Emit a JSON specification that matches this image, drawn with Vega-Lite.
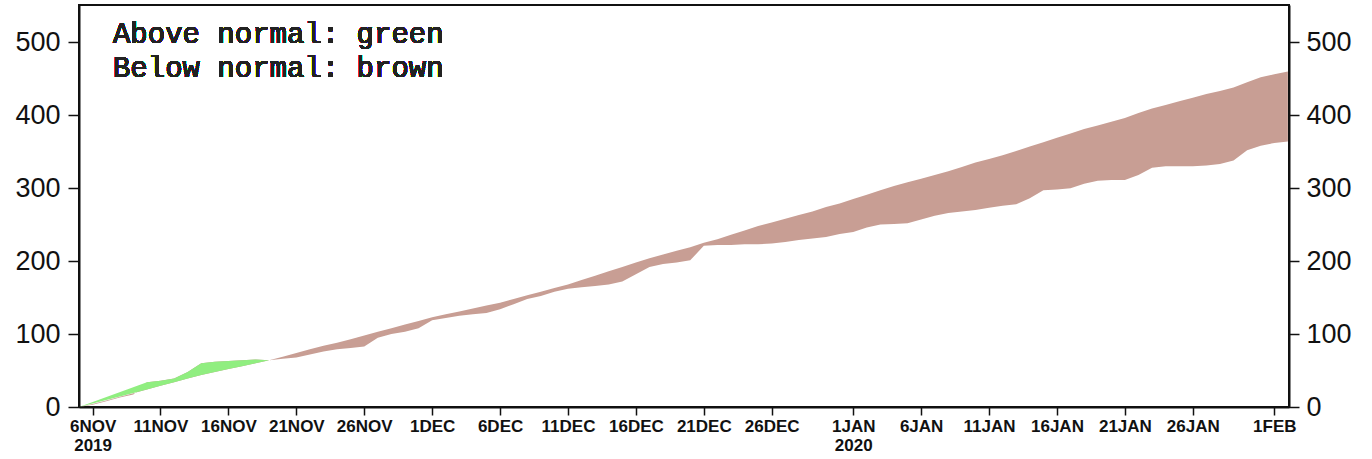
{
  "$schema": "https://vega.github.io/schema/vega-lite/v6.json",
  "autosize": {"type": "none"},
  "width": 1210,
  "height": 402,
  "padding": {"left": 79, "top": 5, "right": 83, "bottom": 52},
  "background": "white",
  "config": {
    "view": {"stroke": "#111", "strokeWidth": 2},
    "axis": {"domainColor": "#111", "domainWidth": 2, "tickColor": "#111", "tickWidth": 1.5, "labelColor": "#111", "title": null, "grid": false},
    "axisY": {"labelFont": "Liberation Sans", "labelFontSize": 27, "labelFlush": false, "labelBound": false},
    "axisLeft": {"tickSize": 11, "labelPadding": 8},
    "axisRight": {"tickSize": 10, "labelPadding": 7}
  },
  "data": {"values": [
    {"date": "2019-11-05", "observed": 0, "normal": 0},
    {"date": "2019-11-06", "observed": 3, "normal": 4},
    {"date": "2019-11-07", "observed": 8, "normal": 9},
    {"date": "2019-11-08", "observed": 13, "normal": 14},
    {"date": "2019-11-09", "observed": 17, "normal": 19},
    {"date": "2019-11-10", "observed": 34, "normal": 24},
    {"date": "2019-11-11", "observed": 36, "normal": 29},
    {"date": "2019-11-12", "observed": 39, "normal": 34},
    {"date": "2019-11-13", "observed": 48, "normal": 39},
    {"date": "2019-11-14", "observed": 60, "normal": 44},
    {"date": "2019-11-15", "observed": 62, "normal": 48},
    {"date": "2019-11-16", "observed": 63, "normal": 52},
    {"date": "2019-11-17", "observed": 64, "normal": 56},
    {"date": "2019-11-18", "observed": 65, "normal": 60},
    {"date": "2019-11-19", "observed": 64, "normal": 64},
    {"date": "2019-11-20", "observed": 66, "normal": 69},
    {"date": "2019-11-21", "observed": 68, "normal": 74},
    {"date": "2019-11-22", "observed": 72, "normal": 79},
    {"date": "2019-11-23", "observed": 76, "normal": 84},
    {"date": "2019-11-24", "observed": 79, "normal": 88},
    {"date": "2019-11-25", "observed": 81, "normal": 93},
    {"date": "2019-11-26", "observed": 83, "normal": 98},
    {"date": "2019-11-27", "observed": 95, "normal": 103},
    {"date": "2019-11-28", "observed": 100, "normal": 108},
    {"date": "2019-11-29", "observed": 103, "normal": 113},
    {"date": "2019-11-30", "observed": 108, "normal": 118},
    {"date": "2019-12-01", "observed": 119, "normal": 123},
    {"date": "2019-12-02", "observed": 122, "normal": 127},
    {"date": "2019-12-03", "observed": 125, "normal": 131},
    {"date": "2019-12-04", "observed": 127, "normal": 135},
    {"date": "2019-12-05", "observed": 129, "normal": 139},
    {"date": "2019-12-06", "observed": 134, "normal": 143},
    {"date": "2019-12-07", "observed": 141, "normal": 148},
    {"date": "2019-12-08", "observed": 148, "normal": 153},
    {"date": "2019-12-09", "observed": 152, "normal": 158},
    {"date": "2019-12-10", "observed": 158, "normal": 163},
    {"date": "2019-12-11", "observed": 162, "normal": 168},
    {"date": "2019-12-12", "observed": 164, "normal": 174},
    {"date": "2019-12-13", "observed": 166, "normal": 180},
    {"date": "2019-12-14", "observed": 168, "normal": 186},
    {"date": "2019-12-15", "observed": 172, "normal": 192},
    {"date": "2019-12-16", "observed": 182, "normal": 198},
    {"date": "2019-12-17", "observed": 192, "normal": 204},
    {"date": "2019-12-18", "observed": 196, "normal": 209},
    {"date": "2019-12-19", "observed": 198, "normal": 214},
    {"date": "2019-12-20", "observed": 201, "normal": 219},
    {"date": "2019-12-21", "observed": 221, "normal": 225},
    {"date": "2019-12-22", "observed": 222, "normal": 230},
    {"date": "2019-12-23", "observed": 222, "normal": 236},
    {"date": "2019-12-24", "observed": 223, "normal": 242},
    {"date": "2019-12-25", "observed": 223, "normal": 248},
    {"date": "2019-12-26", "observed": 224, "normal": 253},
    {"date": "2019-12-27", "observed": 226, "normal": 258},
    {"date": "2019-12-28", "observed": 229, "normal": 263},
    {"date": "2019-12-29", "observed": 231, "normal": 268},
    {"date": "2019-12-30", "observed": 233, "normal": 274},
    {"date": "2019-12-31", "observed": 237, "normal": 279},
    {"date": "2020-01-01", "observed": 240, "normal": 285},
    {"date": "2020-01-02", "observed": 246, "normal": 291},
    {"date": "2020-01-03", "observed": 250, "normal": 297},
    {"date": "2020-01-04", "observed": 251, "normal": 303},
    {"date": "2020-01-05", "observed": 252, "normal": 308},
    {"date": "2020-01-06", "observed": 257, "normal": 313},
    {"date": "2020-01-07", "observed": 262, "normal": 318},
    {"date": "2020-01-08", "observed": 266, "normal": 323},
    {"date": "2020-01-09", "observed": 268, "normal": 329},
    {"date": "2020-01-10", "observed": 270, "normal": 335},
    {"date": "2020-01-11", "observed": 273, "normal": 340},
    {"date": "2020-01-12", "observed": 276, "normal": 345},
    {"date": "2020-01-13", "observed": 278, "normal": 351},
    {"date": "2020-01-14", "observed": 286, "normal": 357},
    {"date": "2020-01-15", "observed": 297, "normal": 363},
    {"date": "2020-01-16", "observed": 298, "normal": 369},
    {"date": "2020-01-17", "observed": 300, "normal": 375},
    {"date": "2020-01-18", "observed": 306, "normal": 381},
    {"date": "2020-01-19", "observed": 310, "normal": 386},
    {"date": "2020-01-20", "observed": 311, "normal": 391},
    {"date": "2020-01-21", "observed": 311, "normal": 396},
    {"date": "2020-01-22", "observed": 318, "normal": 403},
    {"date": "2020-01-23", "observed": 328, "normal": 409},
    {"date": "2020-01-24", "observed": 330, "normal": 414},
    {"date": "2020-01-25", "observed": 330, "normal": 419},
    {"date": "2020-01-26", "observed": 330, "normal": 424},
    {"date": "2020-01-27", "observed": 331, "normal": 429},
    {"date": "2020-01-28", "observed": 333, "normal": 433},
    {"date": "2020-01-29", "observed": 338, "normal": 438},
    {"date": "2020-01-30", "observed": 352, "normal": 445},
    {"date": "2020-01-31", "observed": 358, "normal": 452},
    {"date": "2020-02-01", "observed": 362, "normal": 456},
    {"date": "2020-02-02", "observed": 364, "normal": 460}
  ]},
  "resolve": {"axis": {"y": "independent"}},
  "layer": [
    {
      "mark": {"type": "area", "color": "#c89e94", "clip": true},
      "encoding": {
        "x": {
          "field": "date", "type": "temporal",
          "scale": {"type": "utc", "domain": [{"year": 2019, "month": 11, "date": 5, "utc": true}, {"year": 2020, "month": 2, "date": 2, "hours": 2, "utc": true}]},
          "axis": {
            "orient": "bottom",
            "values": [
              {"year": 2019, "month": 11, "date": 6, "utc": true},
              {"year": 2019, "month": 11, "date": 11, "utc": true},
              {"year": 2019, "month": 11, "date": 16, "utc": true},
              {"year": 2019, "month": 11, "date": 21, "utc": true},
              {"year": 2019, "month": 11, "date": 26, "utc": true},
              {"year": 2019, "month": 12, "date": 1, "utc": true},
              {"year": 2019, "month": 12, "date": 6, "utc": true},
              {"year": 2019, "month": 12, "date": 11, "utc": true},
              {"year": 2019, "month": 12, "date": 16, "utc": true},
              {"year": 2019, "month": 12, "date": 21, "utc": true},
              {"year": 2019, "month": 12, "date": 26, "utc": true},
              {"year": 2020, "month": 1, "date": 1, "utc": true},
              {"year": 2020, "month": 1, "date": 6, "utc": true},
              {"year": 2020, "month": 1, "date": 11, "utc": true},
              {"year": 2020, "month": 1, "date": 16, "utc": true},
              {"year": 2020, "month": 1, "date": 21, "utc": true},
              {"year": 2020, "month": 1, "date": 26, "utc": true},
              {"year": 2020, "month": 2, "date": 1, "utc": true}
            ],
            "labelExpr": "(utcdate(datum.value) == 6 && utcmonth(datum.value) == 10) ? [upper(utcFormat(datum.value, '%-d%b')), '2019'] : ((utcdate(datum.value) == 1 && utcmonth(datum.value) == 0) ? [upper(utcFormat(datum.value, '%-d%b')), '2020'] : upper(utcFormat(datum.value, '%-d%b')))",
            "tickSize": 8,
            "labelFont": "Liberation Sans",
            "labelFontSize": 17,
            "labelFontWeight": "bold",
            "labelLineHeight": 19,
            "labelPadding": 3,
            "labelOverlap": false,
            "labelFlush": false,
            "labelBound": false,
            "labelAngle": 0,
            "labelAlign": "center",
            "labelBaseline": "top",
            "title": null
          }
        },
        "y": {
          "field": "observed", "type": "quantitative",
          "scale": {"domain": [0, 551], "nice": false, "zero": true},
          "axis": {
            "orient": "left",
            "values": [0, 100, 200, 300, 400, 500],
            "tickSize": 11,
            "labelPadding": 8,
            "labelFont": "Liberation Sans",
            "labelFontSize": 27,
            "title": null
          }
        },
        "y2": {"field": "normal"}
      }
    },
    {
      "transform": [{"filter": "datum.observed >= datum.normal"}],
      "mark": {"type": "area", "color": "#90ee80", "clip": true},
      "encoding": {
        "x": {"field": "date", "type": "temporal"},
        "y": {
          "field": "observed", "type": "quantitative",
          "axis": {
            "orient": "right",
            "values": [0, 100, 200, 300, 400, 500],
            "tickSize": 10,
            "labelPadding": 7,
            "labelFont": "Liberation Sans",
            "labelFontSize": 27,
            "title": null
          }
        },
        "y2": {"field": "normal"}
      }
    },
    {
      "mark": {"type": "text", "font": "Liberation Mono", "fontSize": 29, "color": "#222", "align": "left", "baseline": "alphabetic", "lineHeight": 34},
      "encoding": {
        "x": {"datum": {"year": 2019, "month": 11, "date": 7, "hours": 12, "utc": true}, "type": "temporal"},
        "y": {"datum": 498.6, "type": "quantitative", "axis": null},
        "text": {"value": ["Above normal: green", "Below normal: brown"]}
      }
    }
  ]
}
